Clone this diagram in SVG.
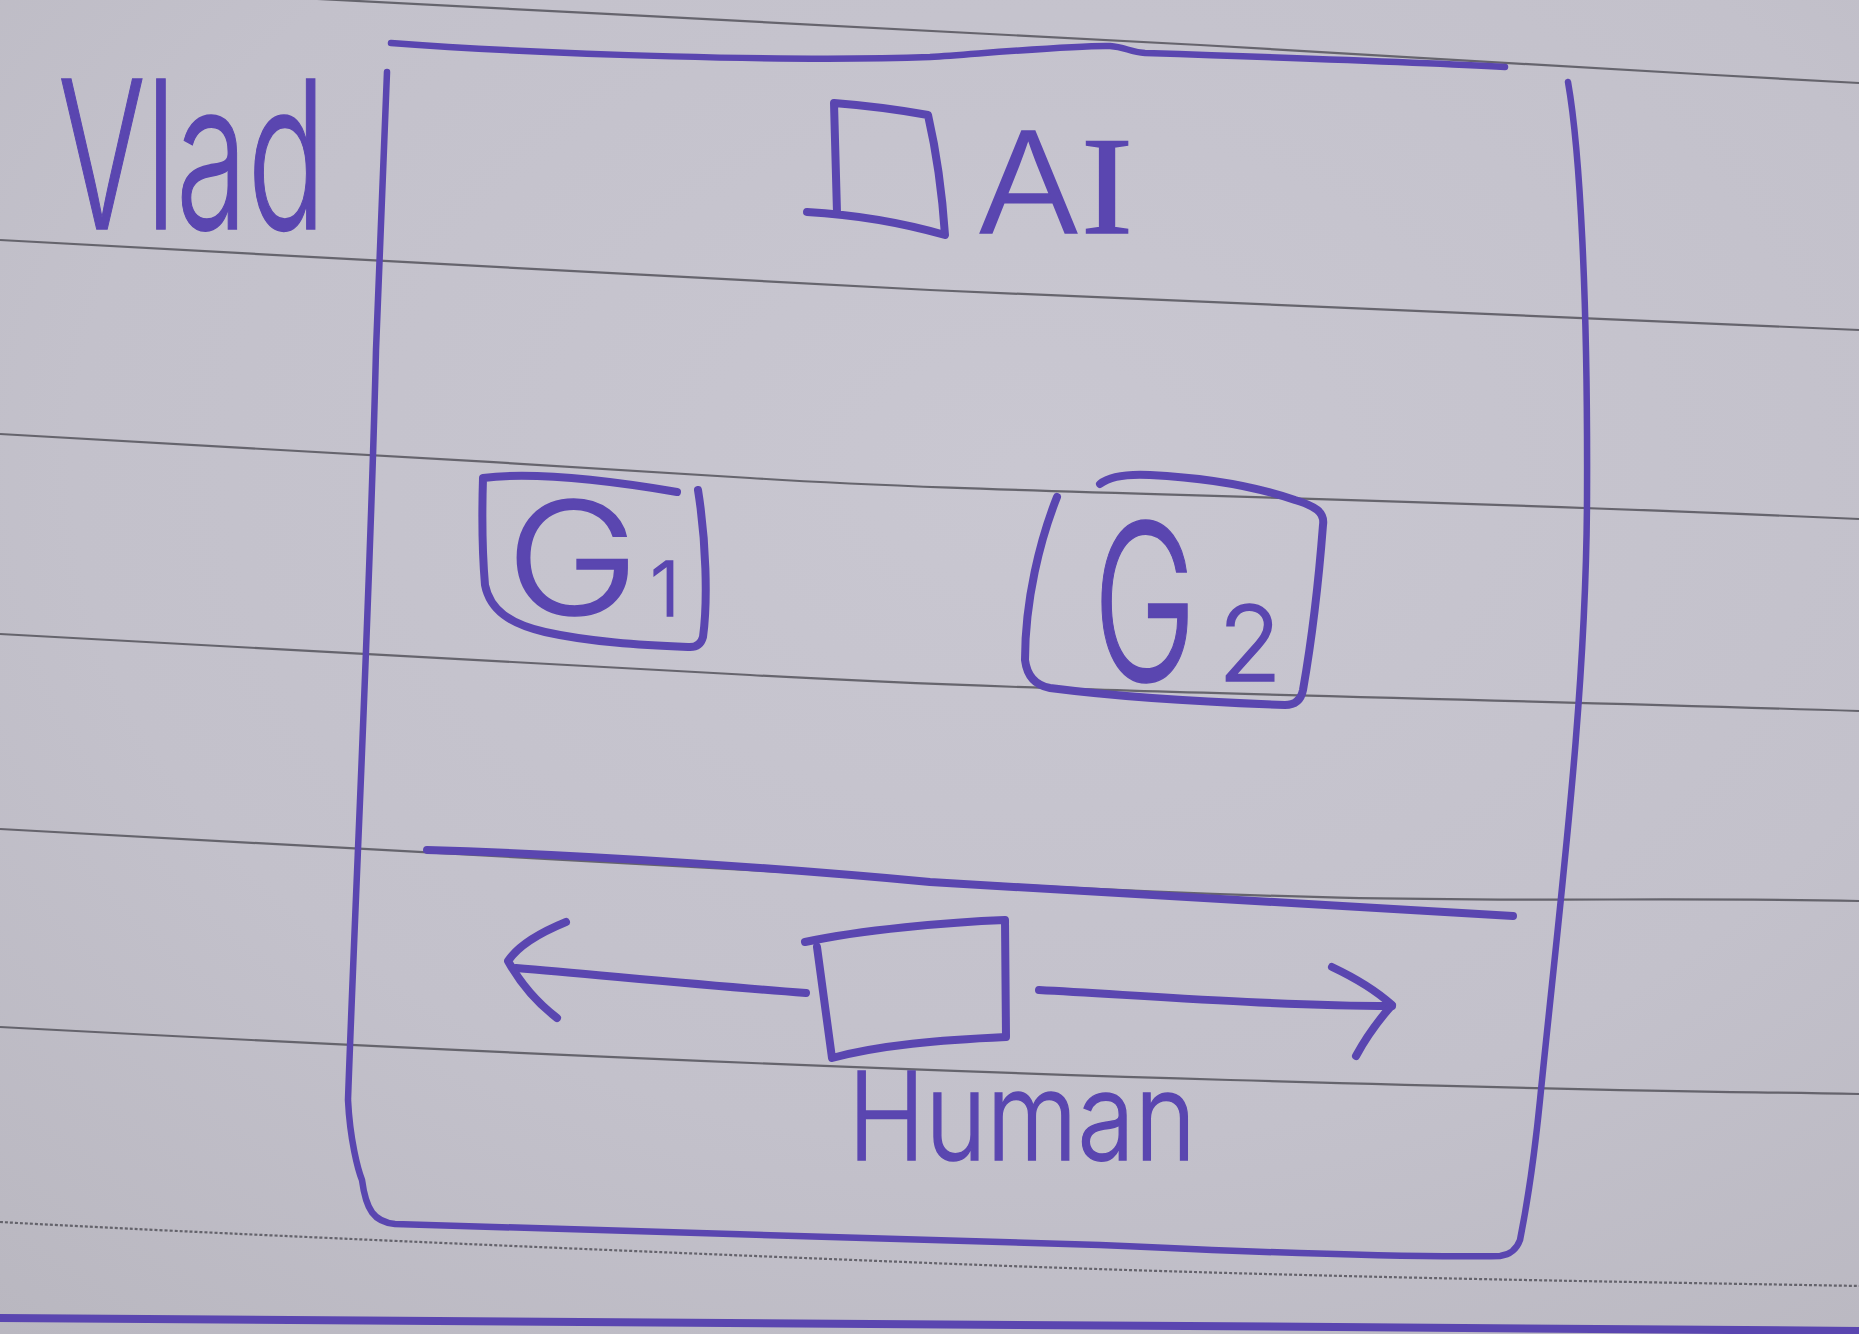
<svg xmlns="http://www.w3.org/2000/svg" width="1859" height="1334" viewBox="0 0 1859 1334">
  <defs>
    <radialGradient id="paper" cx="0.55" cy="0.35" r="0.85">
      <stop offset="0" stop-color="#c9c7d1"/>
      <stop offset="0.6" stop-color="#c3c1cb"/>
      <stop offset="1" stop-color="#b9b7c0"/>
    </radialGradient>
  </defs>
  <style>
    .rule { fill: none; stroke: #55545c; stroke-width: 2.2; opacity: 0.85; }
    .ink { fill: none; stroke: #5a46b0; stroke-width: 8; stroke-linecap: round; stroke-linejoin: round; }
    .thin { stroke-width: 6.5; }
    .txt { fill: #5a46b0; stroke: #5a46b0; stroke-width: 1.5; font-family: Inter, Roboto, "Open Sans", "Liberation Sans", sans-serif; font-weight: 300; }
  </style>

  <!-- paper -->
  <rect x="0" y="0" width="1859" height="1334" fill="url(#paper)"/>

  <!-- ruled lines -->
  <g id="paper-lines">
    <path class="rule" d="M300,-2 C 600,14 930,30 1200,45 S 1650,72 1859,83"/>
    <path class="rule" d="M0,240 C 300,256 700,279 930,290 S 1500,316 1859,330"/>
    <path class="rule" d="M0,434 C 200,445 500,462 750,478 S 1300,494 1859,519"/>
    <path class="rule" d="M0,634 C 200,645 450,658 750,675 S 1350,695 1859,711"/>
    <path class="rule" d="M0,829 C 200,839 415,850 930,880 S 1557,895 1859,901"/>
    <path class="rule" d="M0,1027 C 300,1043 780,1067 1230,1080 S 1700,1091 1859,1094"/>
    <path class="rule" d="M0,1222 C 200,1233 550,1248 930,1263 S 1650,1282 1859,1286" stroke-dasharray="3 2"/>
    <path class="ink" d="M-5,1318 C 400,1320 1200,1326 1864,1331" stroke-width="9"/>
  </g>

  <!-- label outside the frame -->
  <g id="vlad">
    <text class="txt" x="58" y="229" font-size="206" textLength="268" lengthAdjust="spacingAndGlyphs">Vlad</text>
  </g>

  <!-- big frame -->
  <g id="frame">
    <path class="ink thin" d="M391,43 C 550,55 800,62 930,57 C 1000,52 1080,45 1110,46 C 1125,47 1130,52 1145,53 C 1300,58 1420,62 1505,67"/>
    <path class="ink thin" d="M387,72 C 384,150 380,250 376,350 C 370,600 355,900 348,1100 C 350,1140 358,1170 362,1180 C 366,1210 374,1222 395,1224 C 600,1230 900,1239 1100,1245 C 1250,1252 1400,1258 1500,1256 Q 1515,1254 1520,1240 C 1528,1200 1535,1150 1540,1100 C 1560,900 1586,700 1587,500 C 1588,300 1580,150 1568,82"/>
    <path class="ink" d="M427,850 C 600,855 800,870 930,882 C 1100,892 1300,902 1513,916"/>
  </g>

  <!-- AI legend -->
  <g id="ai">
    <path class="ink" d="M807,212 C 860,215 910,225 945,235 C 942,190 936,150 928,115 C 900,110 860,105 834,103 L 837,213"/>
    <text class="txt" x="976" y="233" font-size="140" textLength="157" lengthAdjust="spacingAndGlyphs">A<tspan font-family="'Liberation Serif', serif">I</tspan></text>
  </g>

  <!-- G1 -->
  <g id="g1">
    <path class="ink" d="M677,492 C 600,479 530,472 483,478 C 482,510 482,550 485,585 C 490,610 510,624 545,632 C 590,642 640,645 688,647 Q 700,648 703,637 C 708,600 706,540 698,490"/>
    <text class="txt" x="0" y="0" font-size="156" transform="translate(506,614) scale(1.15,1)">G</text>
    <text class="txt" x="650" y="616" font-size="76">1</text>
  </g>

  <!-- G2 -->
  <g id="g2">
    <path class="ink" d="M1100,484 C 1110,476 1130,474 1150,475 C 1210,478 1260,488 1295,500 C 1315,506 1325,512 1323,525 C 1318,590 1310,650 1303,690 Q 1300,705 1285,705 C 1200,702 1120,697 1050,688 Q 1028,684 1025,660 C 1025,600 1040,540 1057,497"/>
    <text class="txt" x="0" y="0" font-size="218" transform="translate(1093,681) scale(0.64,1)">G</text>
    <text class="txt" x="1218" y="681" font-size="104">2</text>
  </g>

  <!-- Human -->
  <g id="human">
    <path class="ink" d="M805,942 C 860,930 950,922 1005,920 L 1006,1037 C 940,1040 880,1045 832,1058 L 817,947"/>
    <text class="txt" x="848" y="1160" font-size="122" textLength="348" lengthAdjust="spacingAndGlyphs">Human</text>
  </g>

  <!-- connectors -->
  <g id="connectors">
    <path class="ink" d="M806,993 C 700,985 600,975 516,968"/>
    <path class="ink" d="M566,922 Q 522,940 508,961 Q 527,995 557,1018"/>
    <path class="ink" d="M1039,990 C 1150,996 1280,1006 1392,1006"/>
    <path class="ink" d="M1332,967 Q 1370,985 1392,1005 Q 1370,1030 1356,1056"/>
  </g>
</svg>
